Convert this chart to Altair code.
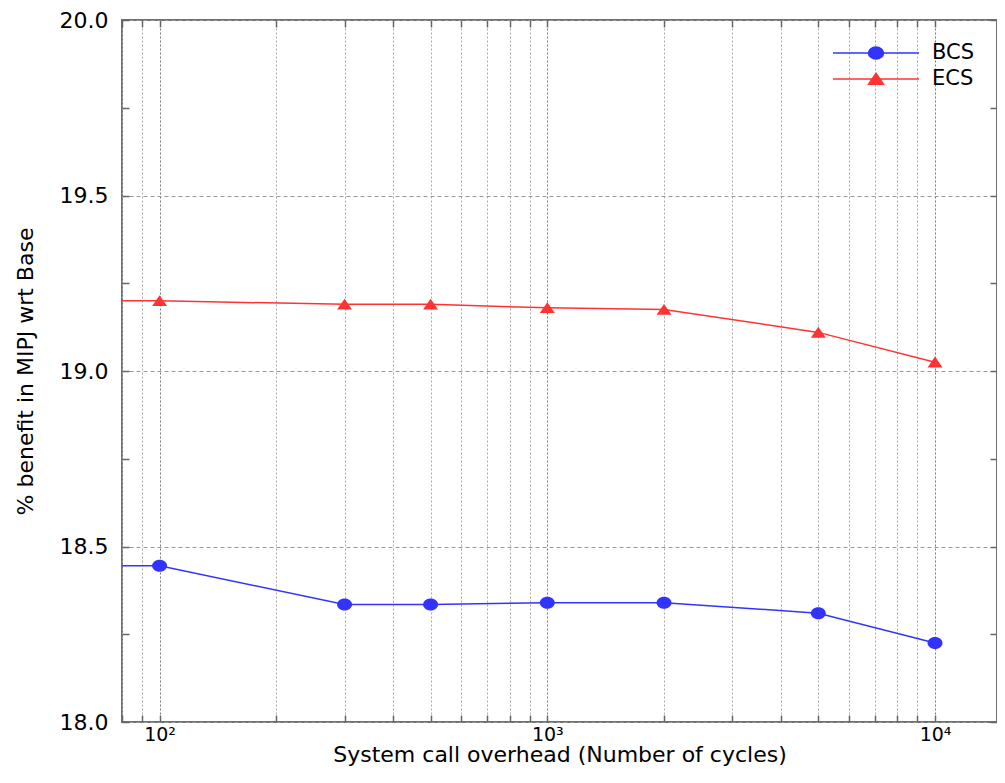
import altair as alt
import pandas as pd

# ---- data ----
cycles = [10, 100, 300, 500, 1000, 2000, 5000, 10000]
bcs = [18.445, 18.445, 18.335, 18.335, 18.34, 18.34, 18.31, 18.225]
ecs = [19.2, 19.2, 19.19, 19.19, 19.18, 19.175, 19.11, 19.025]
series = ["BCS", "ECS"]
colors = ["#3333ff", "#ff3333"]

x_ticks = [80, 90, 100, 200, 300, 400, 500, 600, 700, 800, 900,
           1000, 2000, 3000, 4000, 5000, 6000, 7000, 8000, 9000, 10000]
y_ticks = [18.0, 18.25, 18.5, 18.75, 19.0, 19.25, 19.5, 19.75, 20.0]

rows = []
for name, vals in zip(series, [bcs, ecs]):
    for c, v in zip(cycles, vals):
        rows.append({"cycles": c, "benefit": v, "series": name})
df = pd.DataFrame(rows)

FONT = "DejaVu Sans"
xscale = alt.Scale(type="log", domain=[80, 14450], nice=False)
yscale = alt.Scale(domain=[18, 20], nice=False, zero=False)

# marker paths (unit coords, scaled by sqrt(size)/2)
ELLIPSE = "M-1,0A1,0.8 0 1,0 1,0A1,0.8 0 1,0 -1,0Z"
TRIANGLE = "M-1,0.7L1,0.7L0,-0.75Z"
markers = [ELLIPSE, TRIANGLE]
# legend symbols: line + marker (half-length 43 px)
LEG_CIRC = "M-1,0L1,0M-0.174,0A0.174,0.14 0 1,0 0.174,0A0.174,0.14 0 1,0 -0.174,0Z"
LEG_TRI = "M-1,0L1,0M-0.174,0.122L0.174,0.122L0,-0.131Z"

major_test = "datum.value == 100 || datum.value == 1000 || datum.value == 10000"

x_axis_main = alt.Axis(
    orient="bottom", values=x_ticks, domain=False, ticks=False, tickSize=0,
    grid=True, gridDash=[2, 2], gridWidth=1,
    gridColor={"condition": {"test": major_test, "value": "#777777"}, "value": "#aaaaaa"},
    labelExpr="datum.value == 100 ? '10²' : datum.value == 1000 ? '10³' : datum.value == 10000 ? '10⁴' : ''",
    labelOverlap=False, labelFlush=False, labelFontSize=19, labelPadding=3,
    title="System call overhead (Number of cycles)", titleFontSize=22,
    titleBaseline="alphabetic", titleY=39,
)
y_axis_main = alt.Axis(
    orient="left", values=y_ticks, domain=False, ticks=False, tickSize=0,
    grid=True, gridDash=[4, 3], gridColor="#999999", gridWidth=1,
    gridOpacity={"condition": {"test": "datum.value % 0.5 == 0", "value": 1}, "value": 0},
    labelExpr="datum.value % 0.5 == 0 ? format(datum.value, '.1f') : ''",
    labelOverlap=False, labelFlush=False, labelFontSize=22, labelPadding=14,
    title="% benefit in MIPJ wrt Base", titleFontSize=22, titlePadding=22,
)

legend = alt.Legend(
    title=None, orient="none", legendX=710, legendY=20,
    symbolSize=7396, clipHeight=26, rowPadding=0, labelOffset=12,
    labelFontSize=21, labelFont=FONT, labelColor="black", symbolStrokeWidth=1.5,
    padding=0,
    symbolType={"expr": "datum.value === 'BCS' ? '%s' : '%s'" % (LEG_CIRC, LEG_TRI)},
    symbolFillColor={"expr": "scale('color', datum.value)"},
    symbolOpacity=1,
)

color_scale = alt.Scale(domain=series, range=colors)
base = alt.Chart(df)

line = base.mark_line(clip=True, strokeWidth=1.5).encode(
    x=alt.X("cycles:Q", scale=xscale, axis=x_axis_main),
    y=alt.Y("benefit:Q", scale=yscale, axis=y_axis_main),
    color=alt.Color("series:N", scale=color_scale, legend=legend),
)

point_layers = []
for name, col, shp in zip(series, colors, markers):
    point_layers.append(
        base.transform_filter(alt.datum.series == name)
        .mark_point(clip=True, filled=True, opacity=1, size=225, shape=shp, color=col)
        .encode(
            x=alt.X("cycles:Q", scale=xscale, axis=None),
            y=alt.Y("benefit:Q", scale=yscale, axis=None),
        )
    )

def tick_axis(orient, values):
    return alt.Axis(orient=orient, values=values, labels=False, domain=False, grid=False,
                    ticks=True, tickSize=7, offset=-7, tickColor="#666666", tickWidth=1.5,
                    title=None)

ticks_bl = base.mark_point(opacity=0, clip=True).encode(
    x=alt.X("cycles:Q", scale=xscale, axis=tick_axis("bottom", x_ticks)),
    y=alt.Y("benefit:Q", scale=yscale, axis=tick_axis("left", y_ticks)),
)
ticks_tr = base.mark_point(opacity=0, clip=True).encode(
    x=alt.X("cycles:Q", scale=xscale, axis=tick_axis("top", x_ticks)),
    y=alt.Y("benefit:Q", scale=yscale, axis=tick_axis("right", y_ticks)),
)

chart = alt.layer(line, *point_layers, ticks_bl, ticks_tr).resolve_axis(
    x="independent", y="independent"
).properties(
    width=875, height=702,
    autosize=alt.AutoSizeParams(type="none"),
    padding={"left": 114, "top": 12, "right": 0, "bottom": 44},
    background="white",
).configure_view(
    stroke="#707070", strokeWidth=2
).configure_axis(
    labelFont=FONT, titleFont=FONT, labelColor="black", titleColor="black",
    titleFontWeight="normal",
)

chart.save("out.html", embed_options={"renderer": "svg", "actions": False})
